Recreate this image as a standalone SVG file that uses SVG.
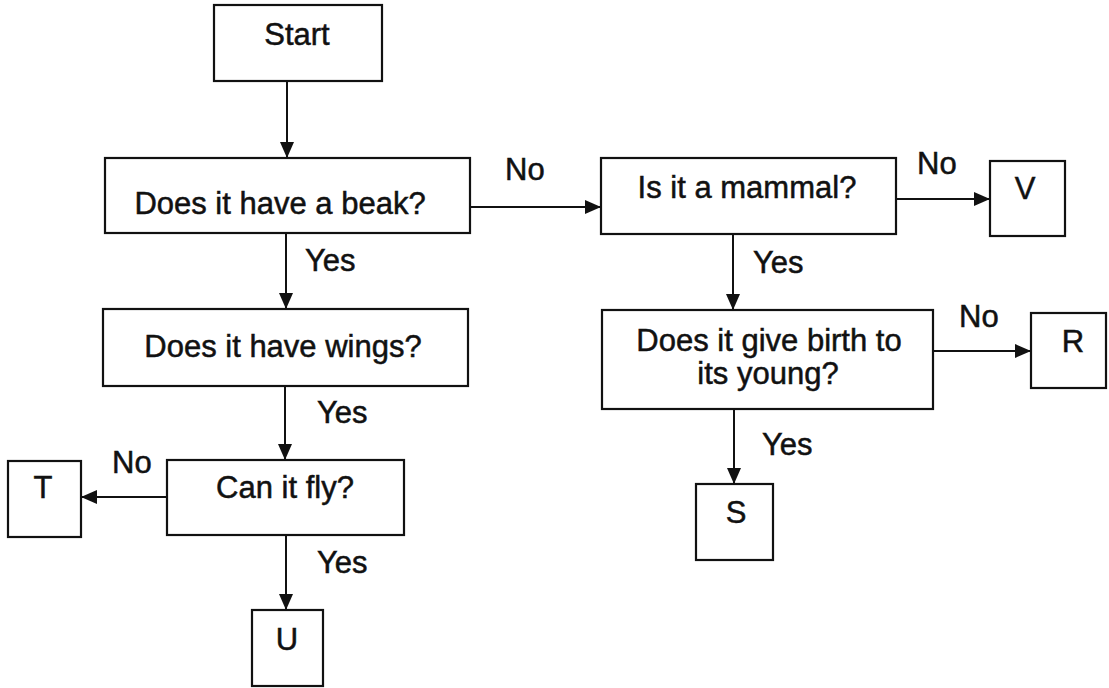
<svg xmlns="http://www.w3.org/2000/svg" width="1109" height="688" viewBox="0 0 1109 688">
<style>
.box{fill:#fff;stroke:#111;stroke-width:2.2}
.t{font-family:"Liberation Sans",Arial,sans-serif;font-size:31px;fill:#111;stroke:#111;stroke-width:0.5;text-anchor:middle}
.l{font-family:"Liberation Sans",Arial,sans-serif;font-size:31px;fill:#111;stroke:#111;stroke-width:0.5}
.c{stroke:#111;stroke-width:2;fill:none;marker-end:url(#ah)}
</style>
<defs>
<marker id="ah" markerUnits="userSpaceOnUse" markerWidth="16" markerHeight="14" refX="16" refY="7" orient="auto">
<path d="M0,0 L16,7 L0,14 Z" fill="#111"/>
</marker>
</defs>
<rect width="1109" height="688" fill="#fff"/>
<g id="connectors">
<line class="c" x1="287" y1="81" x2="287" y2="158"/>
<line class="c" x1="470" y1="207" x2="601" y2="207"/>
<line class="c" x1="896" y1="199" x2="990" y2="199"/>
<line class="c" x1="286" y1="233" x2="286" y2="309"/>
<line class="c" x1="733" y1="234" x2="733" y2="310"/>
<line class="c" x1="933" y1="351" x2="1031" y2="351"/>
<line class="c" x1="285" y1="386" x2="285" y2="460"/>
<line class="c" x1="734" y1="409" x2="734" y2="484"/>
<line class="c" x1="167" y1="497" x2="81" y2="497"/>
<line class="c" x1="286" y1="535" x2="286" y2="610"/>
<text class="l" x="505" y="180">No</text>
<text class="l" x="917" y="174">No</text>
<text class="l" x="959" y="327">No</text>
<text class="l" x="112" y="473">No</text>
<text class="l" x="305" y="271">Yes</text>
<text class="l" x="753" y="273">Yes</text>
<text class="l" x="317" y="423">Yes</text>
<text class="l" x="317" y="573">Yes</text>
<text class="l" x="762" y="455">Yes</text>
</g>
<g id="start"><rect class="box" x="214" y="5" width="168" height="76"/><text class="t" x="297" y="45">Start</text></g>
<g id="beak"><rect class="box" x="105" y="158" width="365" height="75"/><text class="t" x="280" y="214">Does it have a beak?</text></g>
<g id="mammal"><rect class="box" x="601" y="158" width="295" height="76"/><text class="t" x="747" y="198">Is it a mammal?</text></g>
<g id="V"><rect class="box" x="990" y="161" width="75" height="75"/><text class="t" x="1025" y="199">V</text></g>
<g id="wings"><rect class="box" x="103" y="309" width="365" height="77"/><text class="t" x="283" y="357">Does it have wings?</text></g>
<g id="birth"><rect class="box" x="602" y="310" width="331" height="99"/><text class="t" x="769" y="351">Does it give birth to</text><text class="t" x="768" y="384">its young?</text></g>
<g id="R"><rect class="box" x="1031" y="313" width="75" height="75"/><text class="t" x="1073" y="352">R</text></g>
<g id="fly"><rect class="box" x="167" y="460" width="237" height="75"/><text class="t" x="285" y="498">Can it fly?</text></g>
<g id="T"><rect class="box" x="8" y="461" width="73" height="76"/><text class="t" x="43" y="498">T</text></g>
<g id="U"><rect class="box" x="252" y="610" width="71" height="76"/><text class="t" x="287" y="650">U</text></g>
<g id="S"><rect class="box" x="696" y="484" width="77" height="76"/><text class="t" x="736" y="523">S</text></g>
</svg>
